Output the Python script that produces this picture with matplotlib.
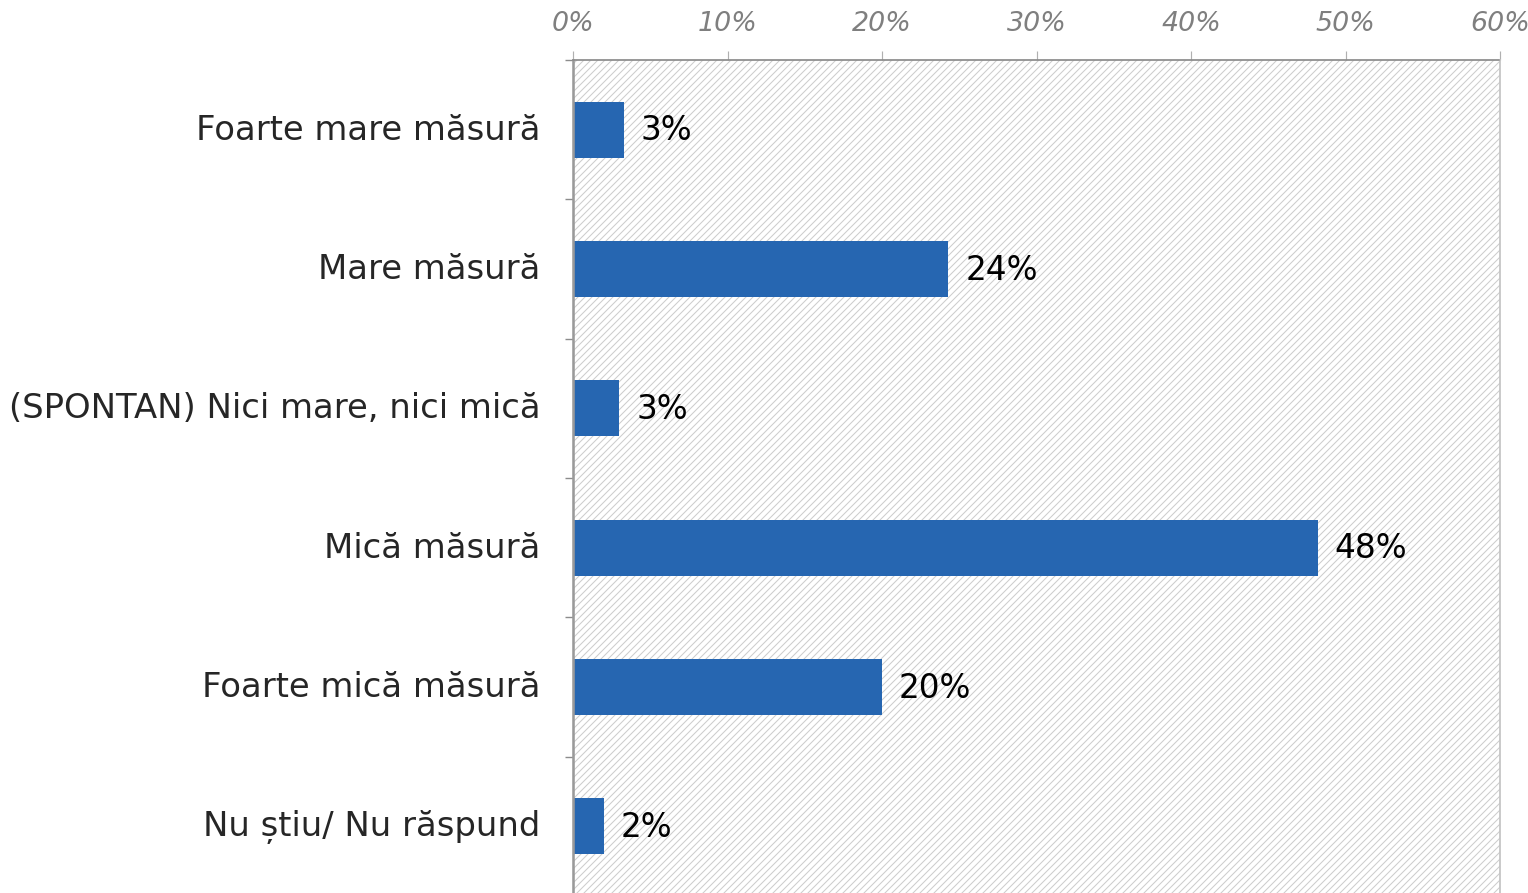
import matplotlib
matplotlib.use("Agg")
import matplotlib.pyplot as plt
from matplotlib.ticker import FixedLocator
import matplotlib.transforms as mtransforms

categories = ["Foarte mare măsură", "Mare măsură", "(SPONTAN) Nici mare, nici mică",
              "Mică măsură", "Foarte mică măsură", "Nu știu/ Nu răspund"]
values = [3.3, 24.3, 3.0, 48.2, 20.0, 2.0]
value_labels = ["3%", "24%", "3%", "48%", "20%", "2%"]
xticks = [0, 10, 20, 30, 40, 50, 60]
xtick_labels = ["0%", "10%", "20%", "30%", "40%", "50%", "60%"]

DPI = 84
W, H = 1528, 893
fig = plt.figure(figsize=(W / DPI, H / DPI), dpi=DPI)
plt.rcParams['hatch.linewidth'] = 0.9
plt.rcParams['hatch.color'] = '#cdcdcd'

left, right, top, bottom = 573, 1500, 60, 896
ax = fig.add_axes([left / W, 1 - bottom / H, (right - left) / W, (bottom - top) / H])

# hatched background
ax.axvspan(0, 60, facecolor='white', edgecolor='#cdcdcd', hatch='////', linewidth=0, zorder=0)

y = list(range(len(categories)))
ax.barh(y, values, height=0.4, color='#2666b1', zorder=2)

ax.set_xlim(0, 60)
ax.set_ylim(len(categories) - 0.5, -0.5)

font = 'DejaVu Sans'
for yi, v, lab in zip(y, values, value_labels):
    ax.annotate(lab, (v, yi), xytext=(14.5, -1), textcoords='offset points',
                va='center', ha='left', fontsize=28, color='black', family=font)

ax.xaxis.tick_top()
ax.set_xticks(xticks)
ax.set_xticklabels(xtick_labels, fontsize=23, style='italic', color='#7f7f7f', family=font)
ax.tick_params(axis='x', length=8, width=1, color='#b0b0b0', pad=12, direction='out')

ax.yaxis.set_major_locator(FixedLocator([i + 0.5 for i in range(-1, len(categories))]))
ax.yaxis.set_minor_locator(FixedLocator(y))
ax.set_yticklabels([])
ax.set_yticklabels(categories, minor=True, fontsize=29, color='#262626', family=font)
ax.tick_params(axis='y', which='major', length=7, width=1.2, color='#8c8c8c', direction='out')
ax.tick_params(axis='y', which='minor', length=0, pad=28)
offset = mtransforms.ScaledTranslation(0, 2.5 / 72, fig.dpi_scale_trans)
for t in ax.get_yticklabels(minor=True):
    t.set_transform(t.get_transform() + offset)

ax.spines['top'].set_linestyle((0, (1, 1)))
ax.spines['top'].set_color('#8c8c8c')
ax.spines['top'].set_linewidth(1.5)
ax.spines['right'].set_color('#c4c4c4')
ax.spines['right'].set_linewidth(1.5)
ax.spines['left'].set_color('#9a9a9a')
ax.spines['left'].set_linewidth(2.2)
ax.spines['bottom'].set_visible(False)

fig.savefig('out.png', dpi=DPI, facecolor='white')
